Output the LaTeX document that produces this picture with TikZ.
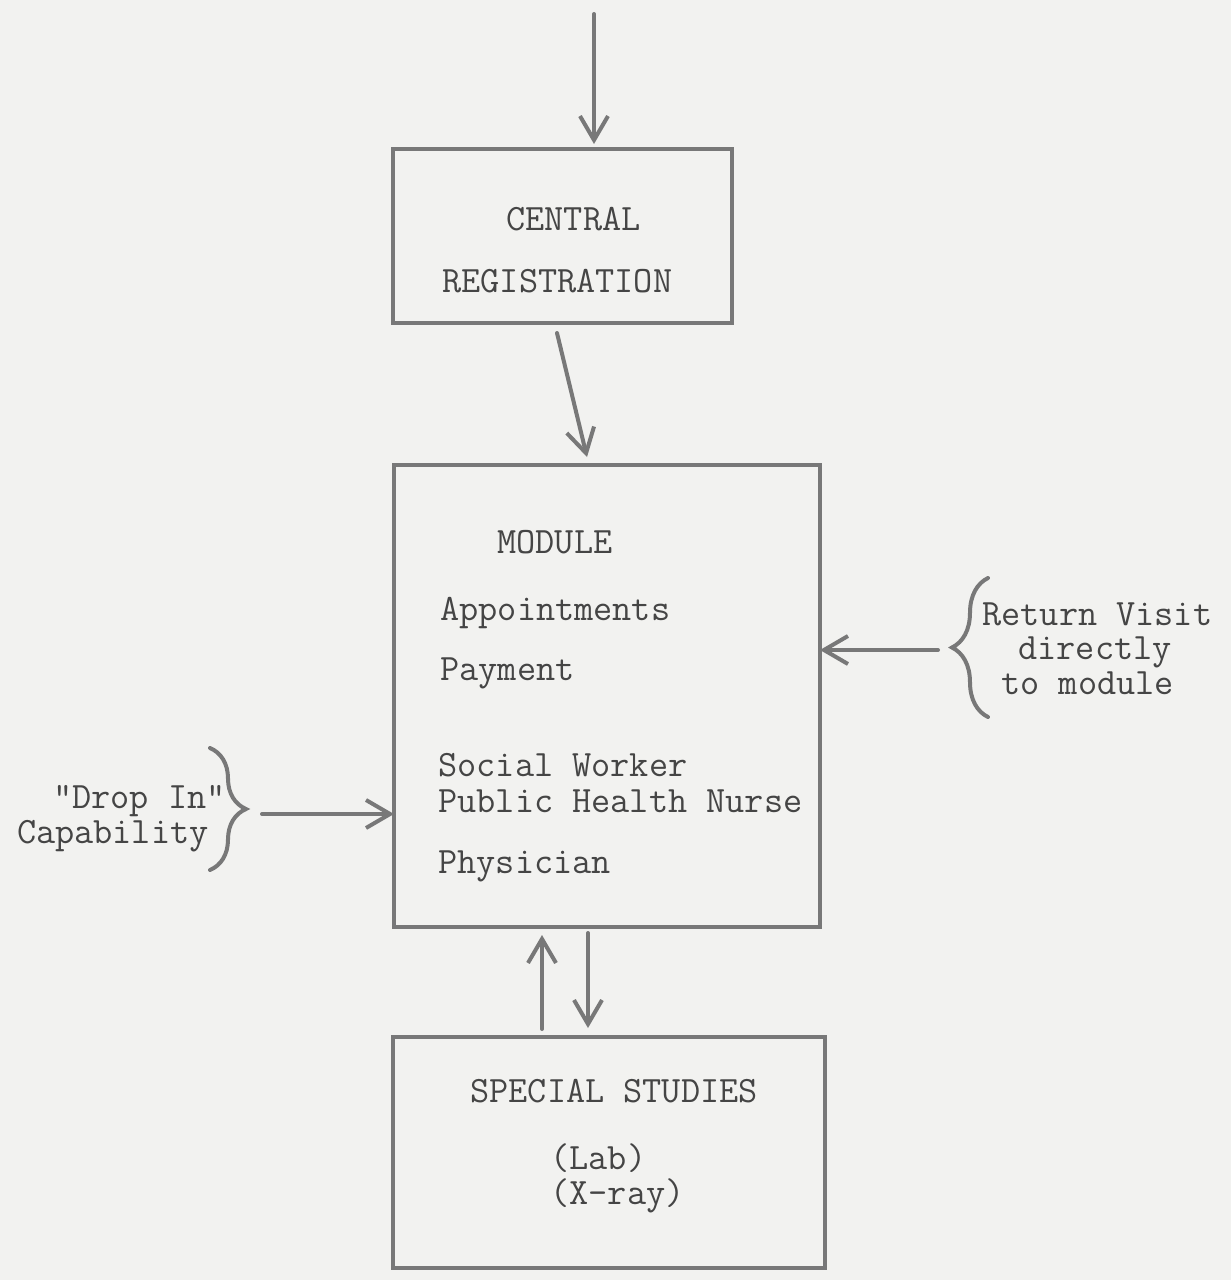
\documentclass[tikz,border=0pt]{standalone}
\usepackage{fontspec}
\usetikzlibrary{arrows.meta,calc,decorations.pathreplacing}
\definecolor{paper}{HTML}{F2F2F0}
\definecolor{ink}{HTML}{787878}
\definecolor{type}{HTML}{454545}
\tikzset{
  boxnode/.style={draw=ink, line width=2pt, inner sep=0pt, outer sep=0pt},
  arr/.style={draw=ink, line width=2pt, line cap=round, -{Straight Barb[length=12pt,width=14pt,line width=2pt]}},
  txt/.style={anchor=base west, inner sep=0pt, text=type, font=\ttfamily\fontsize{18.6pt}{20pt}\selectfont},
  txte/.style={txt, anchor=base east},
  flat/.style={text depth=0pt},
  bracedeco/.style={draw=ink, line width=2pt, line cap=round, decorate, decoration={brace, amplitude=18pt}}
}
\begin{document}
\begin{tikzpicture}[x=0.5pt,y=-0.5pt]
\fill[paper] (0,0) rectangle (1231,1280);
\useasboundingbox (0,0) rectangle (1231,1280);

% boxes
\node[boxnode, minimum width=169.5pt, minimum height=87pt] (cr) at (562.5,236) {};
\node[boxnode, minimum width=213pt, minimum height=231pt] (mod) at (607,696) {};
\node[boxnode, minimum width=216pt, minimum height=115.5pt] (ss) at (609,1152.5) {};

% texts
\node[txt] (t1) at (506,230) {CENTRAL};
\node[txt] (t2) at (442,292) {REGISTRATION};
\node[txt] (t3) at (497,553) {MODULE};
\node[txt] (t4) at (440,620) {Appointments};
\node[txt] (t5) at (440,680) {Payment};
\node[txt, flat] (t6) at (438,776) {Social Worker};
\node[txt] (t7) at (438,812) {Public Health Nurse};
\node[txt] (t8) at (438,873) {Physician};
\node[txt] (t9) at (470,1102) {SPECIAL STUDIES};
\node[txt, flat] (t10) at (550,1169) {(Lab)};
\node[txt] (t11) at (550,1204) {(X-ray)};
\node[txte, flat] (t12) at (226,808) {\symbol{34}Drop In\symbol{34}};
\node[txte] (t13) at (209,843) {Capability};
\node[txt, flat] (t14) at (982,625) {Return Visit};
\node[txt, flat] (t15) at (1018,659) {directly};
\node[txt] (t16) at (1001,694) {to module};

% braces
\draw[bracedeco] (210,748) -- (210,870);
\draw[bracedeco] (988,717) -- (988,578);

% free ends
\coordinate (topin) at (594,14);
\coordinate (drop) at (262,814);
\coordinate (ret) at (938,650);

% connectors
\draw[arr] (topin) -- ($(cr.north)+(31.5,-5)$);
\draw[arr] ($(cr.south)+(-5.5,10)$) -- ($(mod.north)+(-20,-8)$);
\draw[arr] (drop) -- (drop -| mod.west);
\draw[arr] (ret) -- (ret -| mod.east);
\draw[arr] ($(ss.north)+(-67,-8)$) -- ++(0,-94);
\draw[arr] ($(mod.south)+(-19,6)$) -- ++(0,95);
\end{tikzpicture}
\end{document}
